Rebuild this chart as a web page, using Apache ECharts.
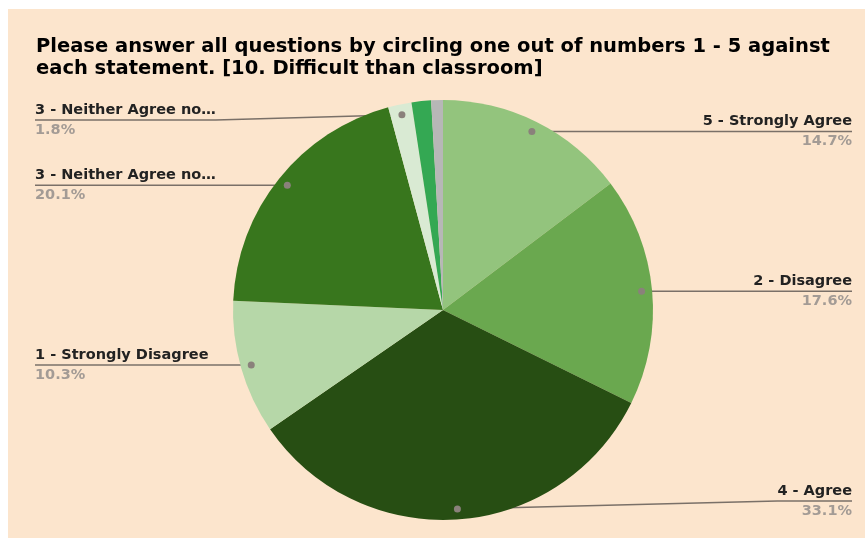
<!DOCTYPE html>
<html><head><meta charset="utf-8">
<script src="https://cdn.jsdelivr.net/npm/echarts@6/dist/echarts.min.js"></script>
<style>
html,body{margin:0;padding:0;background:#ffffff;width:865px;height:538px;overflow:hidden}
#c{position:absolute;left:8px;top:9px;width:857px;height:529px;background:#fce5cd}
</style></head>
<body><div id="c"></div>
<script>
const titleLines = ['Please answer all questions by circling one out of numbers 1 - 5 against', 'each statement. [10. Difficult than classroom]'];
const categories = ['5 - Strongly Agree', '2 - Disagree', '4 - Agree', '1 - Strongly Disagree', '3 - Neither Agree nor Disagree', '3 - Neither Agree nor Disagree ', 'Other', 'No response'];
const values = [14.7, 17.6, 33.1, 10.3, 20.1, 1.8, 1.5, 0.9];
const showLabel = [true, true, true, true, true, true, false, false];
const colors = ['#93c47d', '#6aa84f', '#274e13', '#b6d7a8', '#38761d', '#d9ead3', '#34a853', '#b7b7b7'];

const FONT = '"DejaVu Sans", "Liberation Sans", Arial, sans-serif';
const CX = 435, CY = 301, R = 210;
const RIGHT_X = 844, LEFT_X = 27, MIN_Y = 111, MAX_Y = 492;

const chart = echarts.init(document.getElementById('c'), null, {renderer: 'canvas'});

function anchorOf(i) {
  const lay = chart.getModel().getSeriesByIndex(0).getData().getItemLayout(i);
  const mid = (lay.startAngle + lay.endAngle) / 2;
  return {x: lay.cx + Math.cos(mid) * lay.r * 0.95, y: lay.cy + Math.sin(mid) * lay.r * 0.95, right: Math.cos(mid) > 0};
}

function shortName(n) {
  n = n.trim();
  return n.length > 22 ? n.slice(0, 20) + '…' : n;
}

const data = categories.map((n, i) => ({
  name: n, value: values[i],
  itemStyle: {color: colors[i]},
  label: {show: showLabel[i]},
  labelLine: {show: showLabel[i]}
}));

chart.setOption({
  backgroundColor: 'transparent',
  animation: false,
  title: {
    text: titleLines.join('\n'),
    left: 23, top: 22,
    textStyle: {fontFamily: FONT, fontSize: 19.5, fontWeight: 'bold', color: '#000', lineHeight: 22}
  },
  series: [{
    type: 'pie',
    center: [CX, CY],
    radius: R,
    startAngle: 90,
    clockwise: true,
    avoidLabelOverlap: false,
    data: data,
    label: {
      show: true,
      position: 'outside',
      formatter: p => '{n|' + shortName(p.name) + '}\n{p|' + p.percent.toFixed(1) + '%}',
      rich: {
        n: {fontFamily: FONT, fontSize: 14.5, fontWeight: 'bold', color: '#222', lineHeight: 20},
        p: {fontFamily: FONT, fontSize: 14.5, fontWeight: 'bold', color: '#a39b95', lineHeight: 20}
      }
    },
    labelLine: {show: true, lineStyle: {color: '#7a7068', width: 1.5}},
    labelLayout: function (p) {
      const a = anchorOf(p.dataIndex);
      const lineY = Math.min(Math.max(a.y, MIN_Y), MAX_Y);
      const endX = a.right ? RIGHT_X : LEFT_X;
      const w = p.labelRect.width;
      const bendX = a.right ? endX - w : endX + w;
      return {
        x: endX, y: lineY,
        align: a.right ? 'right' : 'left',
        verticalAlign: 'middle',
        labelLinePoints: [[a.x, a.y], [bendX, lineY], [endX, lineY]]
      };
    }
  }]
});

const dots = [];
for (let i = 0; i < values.length; i++) {
  if (!showLabel[i]) continue;
  const a = anchorOf(i);
  dots.push({type: 'circle', shape: {cx: a.x, cy: a.y, r: 3.5}, style: {fill: '#8a817b'}, z: 100});
}
chart.setOption({graphic: dots});
</script>
</body></html>
